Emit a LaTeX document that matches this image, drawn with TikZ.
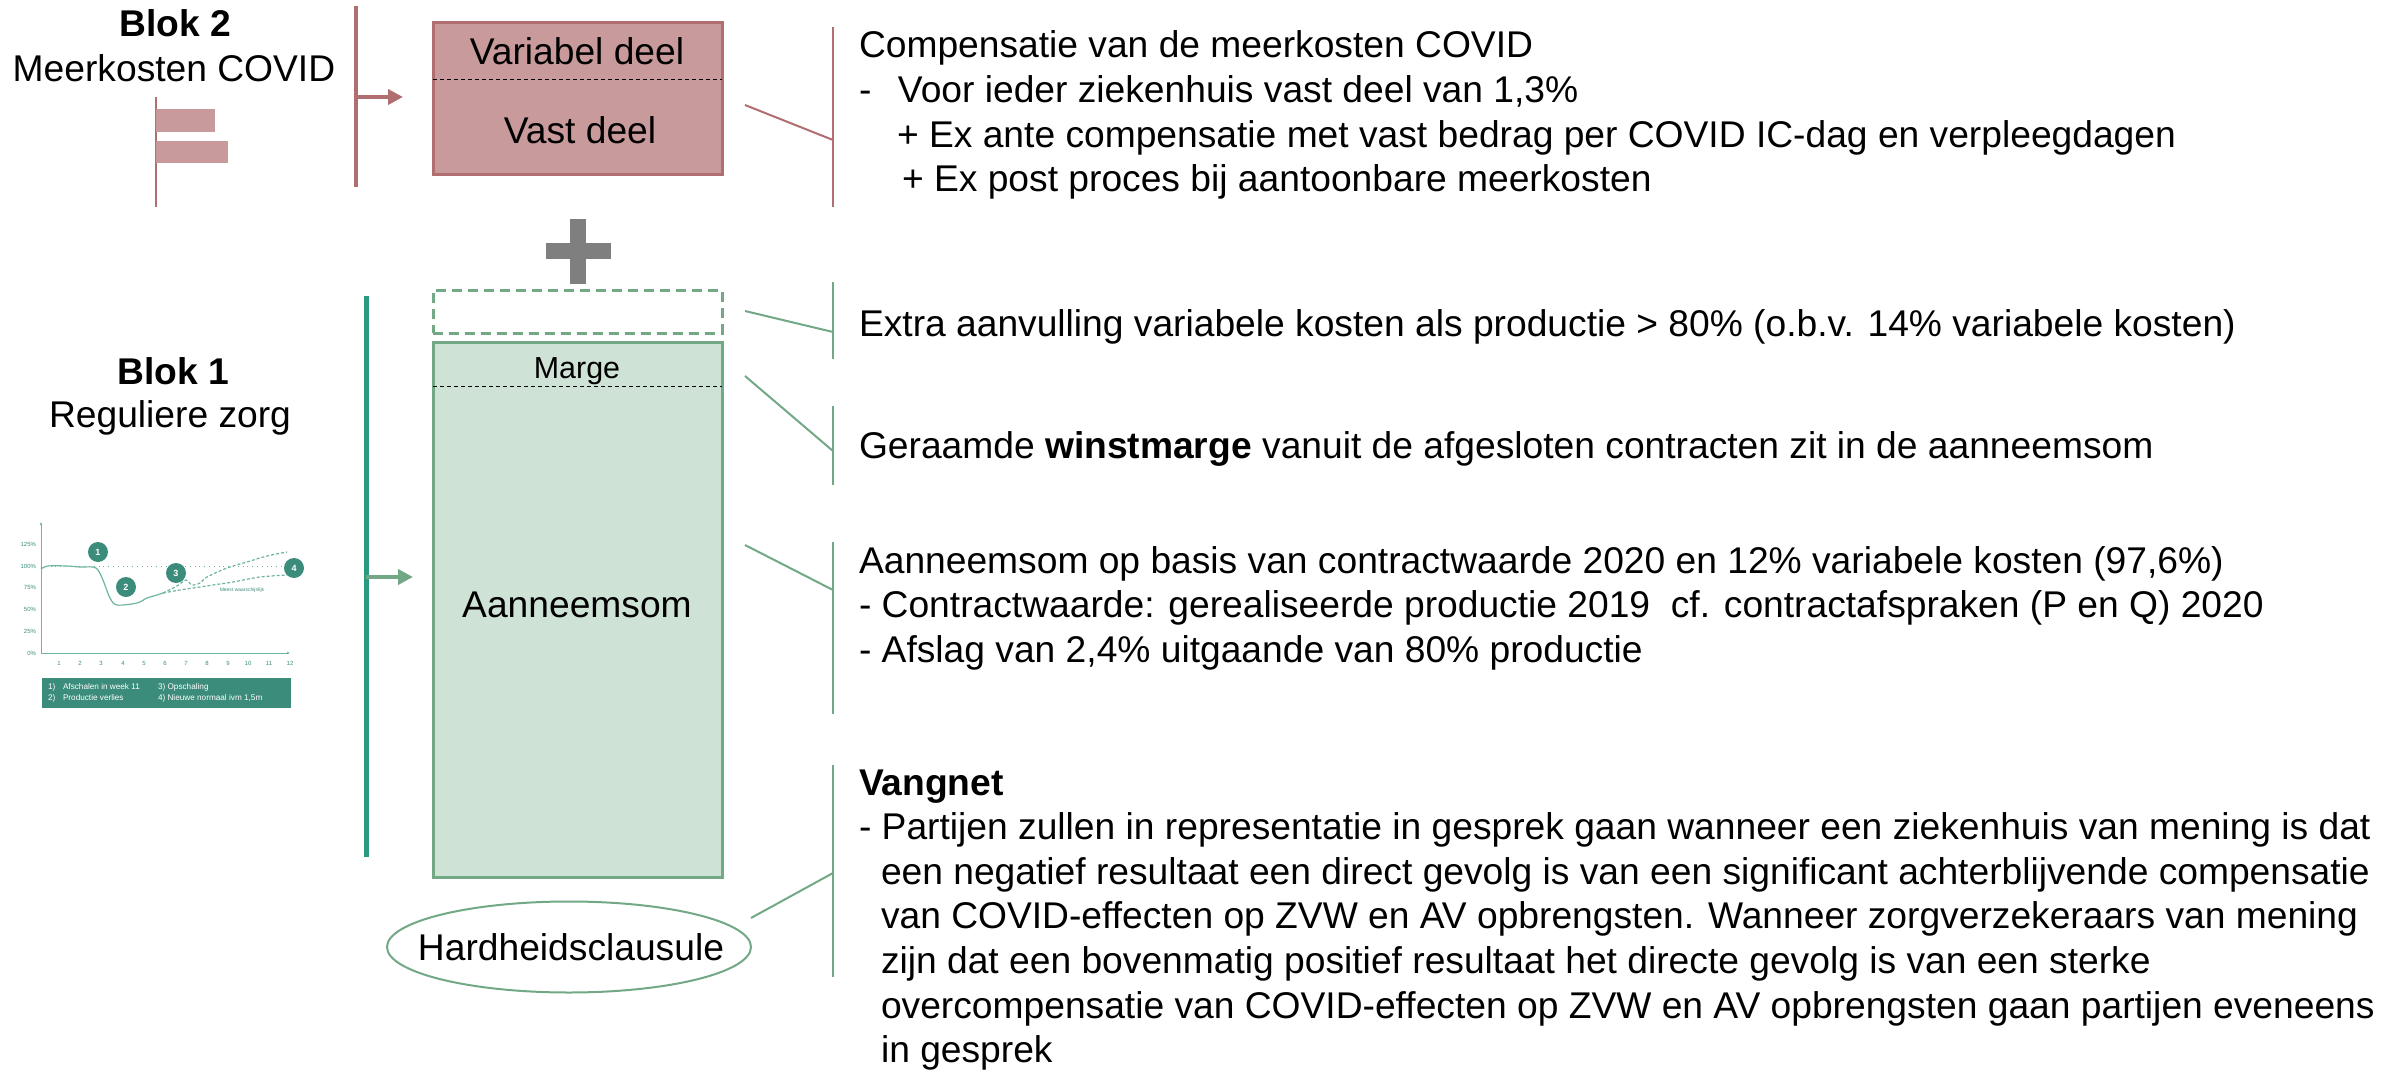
\documentclass[tikz,border=0pt]{standalone}
\usepackage{fontspec}
\setmainfont{Liberation Sans}
\usetikzlibrary{shapes.geometric,arrows.meta}
\definecolor{pinkfill}{HTML}{C99A9B}
\definecolor{pinkline}{HTML}{B06E70}
\definecolor{greenfill}{HTML}{CFE2D6}
\definecolor{greenline}{HTML}{72A886}
\definecolor{tealline}{HTML}{2A9A80}
\definecolor{chartteal}{HTML}{3B8C7A}
\definecolor{chartlight}{HTML}{6DB5A2}
\definecolor{plusgray}{HTML}{7F7F7F}
\begin{document}
\begin{tikzpicture}[x=0.5pt,y=-0.5pt,
  every node/.style={inner sep=0pt,outer sep=0pt},
  maintext/.style={font=\fontsize{18.6}{22.3}\selectfont},
  boldtext/.style={font=\fontsize{18.6}{22.3}\selectfont\bfseries},
  margetext/.style={font=\fontsize{15.2}{18}\selectfont},
  bracketpink/.style={pinkline,line width=1pt},
  bracketgreen/.style={greenline,line width=1pt},
  boxpink/.style={draw=pinkline,fill=pinkfill,line width=1.5pt,minimum width=144.5pt},
  boxgreen/.style={draw=greenline,fill=greenfill,line width=1.5pt,minimum width=144.5pt},
  splitline/.style={black,line width=0.5pt,dash pattern=on 2pt off 1.5pt},
  axislabel/.style={font=\fontsize{3}{3.5}\selectfont,text=chartteal},
  legendtext/.style={font=\fontsize{4.1}{5}\selectfont,text=white,anchor=base west},
  numcircle/.style={circle,fill=chartteal,minimum size=10pt,text=white,font=\fontsize{4.5}{5}\selectfont\bfseries},
  chartcurve/.style={chartlight,line width=0.6pt}
]
\useasboundingbox (0,0) rectangle (2394,1070);

% ---------- left labels ----------
\node[boldtext,anchor=base] (blok2) at (175,37) {Blok 2};
\node[maintext,anchor=base] (meer) at (174,82) {Meerkosten COVID};
\node[boldtext,anchor=base] (blok1) at (173,384) {Blok 1};
\node[maintext,anchor=base] (regul) at (170,427) {Reguliere zorg};

% small bar icon
\coordinate (bartop) at (156,97);
\coordinate (barbot) at (156,207);
\draw[pinkline,line width=0.6pt] (bartop) -- (barbot);
\fill[pinkfill] (156,109) rectangle (215,132);
\fill[pinkfill] (156,141) rectangle (228,163);

% ---------- pink block ----------
\coordinate (pltop) at (356,6);
\coordinate (plbot) at (356,187);
\coordinate (plmid) at (356,97);
\coordinate (pltip) at (403,97);
\draw[pinkline,line width=2.25pt] (pltop) -- (plbot);
\draw[pinkline,line width=2pt,-{Triangle[length=7.5pt,width=7.5pt]}] (plmid) -- (pltip);

\node[boxpink,minimum height=76pt] (pinkbox) at (577.5,99) {};
\draw[splitline] (pinkbox.west |- 0,80) -- (pinkbox.east |- 0,80);
\node[maintext,anchor=base] (vardeel) at (577,65) {Variabel deel};
\node[maintext,anchor=base] (vastdeel) at (580,143) {Vast deel};

% plus
\fill[plusgray] (570,219) rectangle (586,284);
\fill[plusgray] (546,243) rectangle (611,259);

% ---------- green block ----------
\coordinate (gltop) at (366,296);
\coordinate (glbot) at (366,857);
\coordinate (glmid) at (366,577);
\coordinate (gltip) at (413,577);
\draw[tealline,line width=2.5pt] (gltop) -- (glbot);
\draw[greenline,line width=2pt,-{Triangle[length=7.5pt,width=7.5pt]}] (glmid) -- (gltip);

\node[draw=greenline,fill=white,line width=1.5pt,dash pattern=on 5pt off 3pt,minimum width=144.5pt,minimum height=21.5pt] (extrabox) at (577.5,311.5) {};
\node[boxgreen,minimum height=267.5pt] (greenbox) at (577.5,609.5) {};
\draw[splitline] (greenbox.west |- 0,386) -- (greenbox.east |- 0,386);
\node[margetext,anchor=base] (marge) at (577,378) {Marge};
\node[maintext,anchor=base] (aanneem) at (577,617) {Aanneemsom};

\node[ellipse,draw=greenline,line width=1pt,minimum width=182pt,minimum height=45.5pt] (hard) at (569,947) {};
\node[maintext,anchor=base] (hardtext) at (571,960) {Hardheidsclausule};

% ---------- brackets and connectors ----------
\coordinate (b0t) at (833,27);  \coordinate (b0b) at (833,207); \coordinate (b0m) at (833,140); \coordinate (c0) at (745,105);
\coordinate (b1t) at (833,282); \coordinate (b1b) at (833,359); \coordinate (b1m) at (833,332); \coordinate (c1) at (745,311);
\coordinate (b2t) at (833,406); \coordinate (b2b) at (833,485); \coordinate (b2m) at (833,451); \coordinate (c2) at (745,376);
\coordinate (b3t) at (833,542); \coordinate (b3b) at (833,714); \coordinate (b3m) at (833,590); \coordinate (c3) at (745,545);
\coordinate (b4t) at (833,765); \coordinate (b4b) at (833,977); \coordinate (b4m) at (833,873); \coordinate (c4) at (751,918);
\draw[bracketpink] (b0t) -- (b0b);
\draw[bracketpink] (c0) -- (b0m);
\draw[bracketgreen] (b1t) -- (b1b);
\draw[bracketgreen] (c1) -- (b1m);
\draw[bracketgreen] (b2t) -- (b2b);
\draw[bracketgreen] (c2) -- (b2m);
\draw[bracketgreen] (b3t) -- (b3b);
\draw[bracketgreen] (c3) -- (b3m);
\draw[bracketgreen] (b4t) -- (b4b);
\draw[bracketgreen] (c4) -- (b4m);

% ---------- right texts ----------
\node[maintext,anchor=base west] (texta) at (859,58) {\vtop{\baselineskip=22.3pt
  \hbox{Compensatie van de meerkosten COVID}
  \hbox{\makebox[19.5pt][l]{-}Voor ieder ziekenhuis vast deel van 1,3\%}
  \hbox{\hskip19pt + Ex ante compensatie met vast bedrag per COVID IC-dag en verpleegdagen}
  \hbox{\hskip21.5pt + Ex post proces bij aantoonbare meerkosten}}};
\node[maintext,anchor=base west] (textb) at (859,336) {Extra aanvulling variabele kosten als productie > 80\% (o.b.v. 14\% variabele kosten)};
\node[maintext,anchor=base west] (textc) at (859,458) {Geraamde \textbf{winstmarge} vanuit de afgesloten contracten zit in de aanneemsom};
\node[maintext,anchor=base west] (textd) at (859,573) {\vtop{\baselineskip=22.3pt
  \hbox{Aanneemsom op basis van contractwaarde 2020 en 12\% variabele kosten (97,6\%)}
  \hbox{- Contractwaarde: gerealiseerde productie 2019\ \ cf. contractafspraken (P en Q) 2020}
  \hbox{- Afslag van 2,4\% uitgaande van 80\% productie}}};
\node[maintext,anchor=base west] (texte) at (859,795) {\vtop{\baselineskip=22.3pt
  \hbox{\textbf{Vangnet}}
  \hbox{- Partijen zullen in representatie in gesprek gaan wanneer een ziekenhuis van mening is dat}
  \hbox{\hskip11pt een negatief resultaat een direct gevolg is van een significant achterblijvende compensatie}
  \hbox{\hskip11pt van COVID-effecten op ZVW en AV opbrengsten. Wanneer zorgverzekeraars van mening}
  \hbox{\hskip11pt zijn dat een bovenmatig positief resultaat het directe gevolg is van een sterke}
  \hbox{\hskip11pt overcompensatie van COVID-effecten op ZVW en AV opbrengsten gaan partijen eveneens}
  \hbox{\hskip11pt in gesprek}}};

% ---------- small chart ----------
\draw[chartlight,line width=0.4pt,-{Latex[length=1.5pt,width=1.5pt]}] (41,653) -- (41,522);
\draw[chartlight,line width=0.4pt,-{Latex[length=1.5pt,width=1.5pt]}] (41,653) -- (290,653);
\draw[chartlight,line width=0.4pt,dotted] (41,566) -- (288,566);
\foreach \lab/\yy in {125\%/544,100\%/566,75\%/587,50\%/609,25\%/631,0\%/653}
  \node[axislabel,anchor=east] at (36,\yy) {\lab};
\foreach \n/\xx in {1/59,2/80,3/101,4/123,5/144,6/165,7/186,8/207,9/228,10/248,11/269,12/290}
  \node[axislabel] at (\xx,663) {\n};
\draw[chartcurve] plot[smooth] coordinates {(41,569) (48,566) (67,566) (80,567) (93,567) (98,570) (103,580) (110,598) (117,605) (137,603) (147,598) (157,595) (163,593)};
\draw[chartcurve,dash pattern=on 1.5pt off 1pt] plot[smooth] coordinates {(163,593) (177,586) (186,580) (192,585) (200,583) (207,577) (227,568) (247,562) (267,556) (287,552)};
\draw[chartcurve,dash pattern=on 1.5pt off 1pt] plot[smooth] coordinates {(163,593) (180,590) (200,587) (213,585) (233,582) (260,577) (287,575)};
\node[font=\fontsize{2.5}{3}\selectfont,text=chartteal] (meest) at (242,590) {Meest waarschijnlijk};
\node[numcircle] (n1) at (98,552) {1};
\node[numcircle] (n2) at (126,587) {2};
\node[numcircle] (n3) at (176,573) {3};
\node[numcircle] (n4) at (294,568) {4};
\fill[chartteal] (42,678) rectangle (291,708);
\node[legendtext] (l1a) at (48,689) {1)};
\node[legendtext] (l1b) at (63,689) {Afschalen in week 11};
\node[legendtext] (l3) at (158,689) {3) Opschaling};
\node[legendtext] (l2a) at (48,700) {2)};
\node[legendtext] (l2b) at (63,700) {Productie verlies};
\node[legendtext] (l4) at (158,700) {4) Nieuwe normaal ivm 1,5m};
\end{tikzpicture}
\end{document}
